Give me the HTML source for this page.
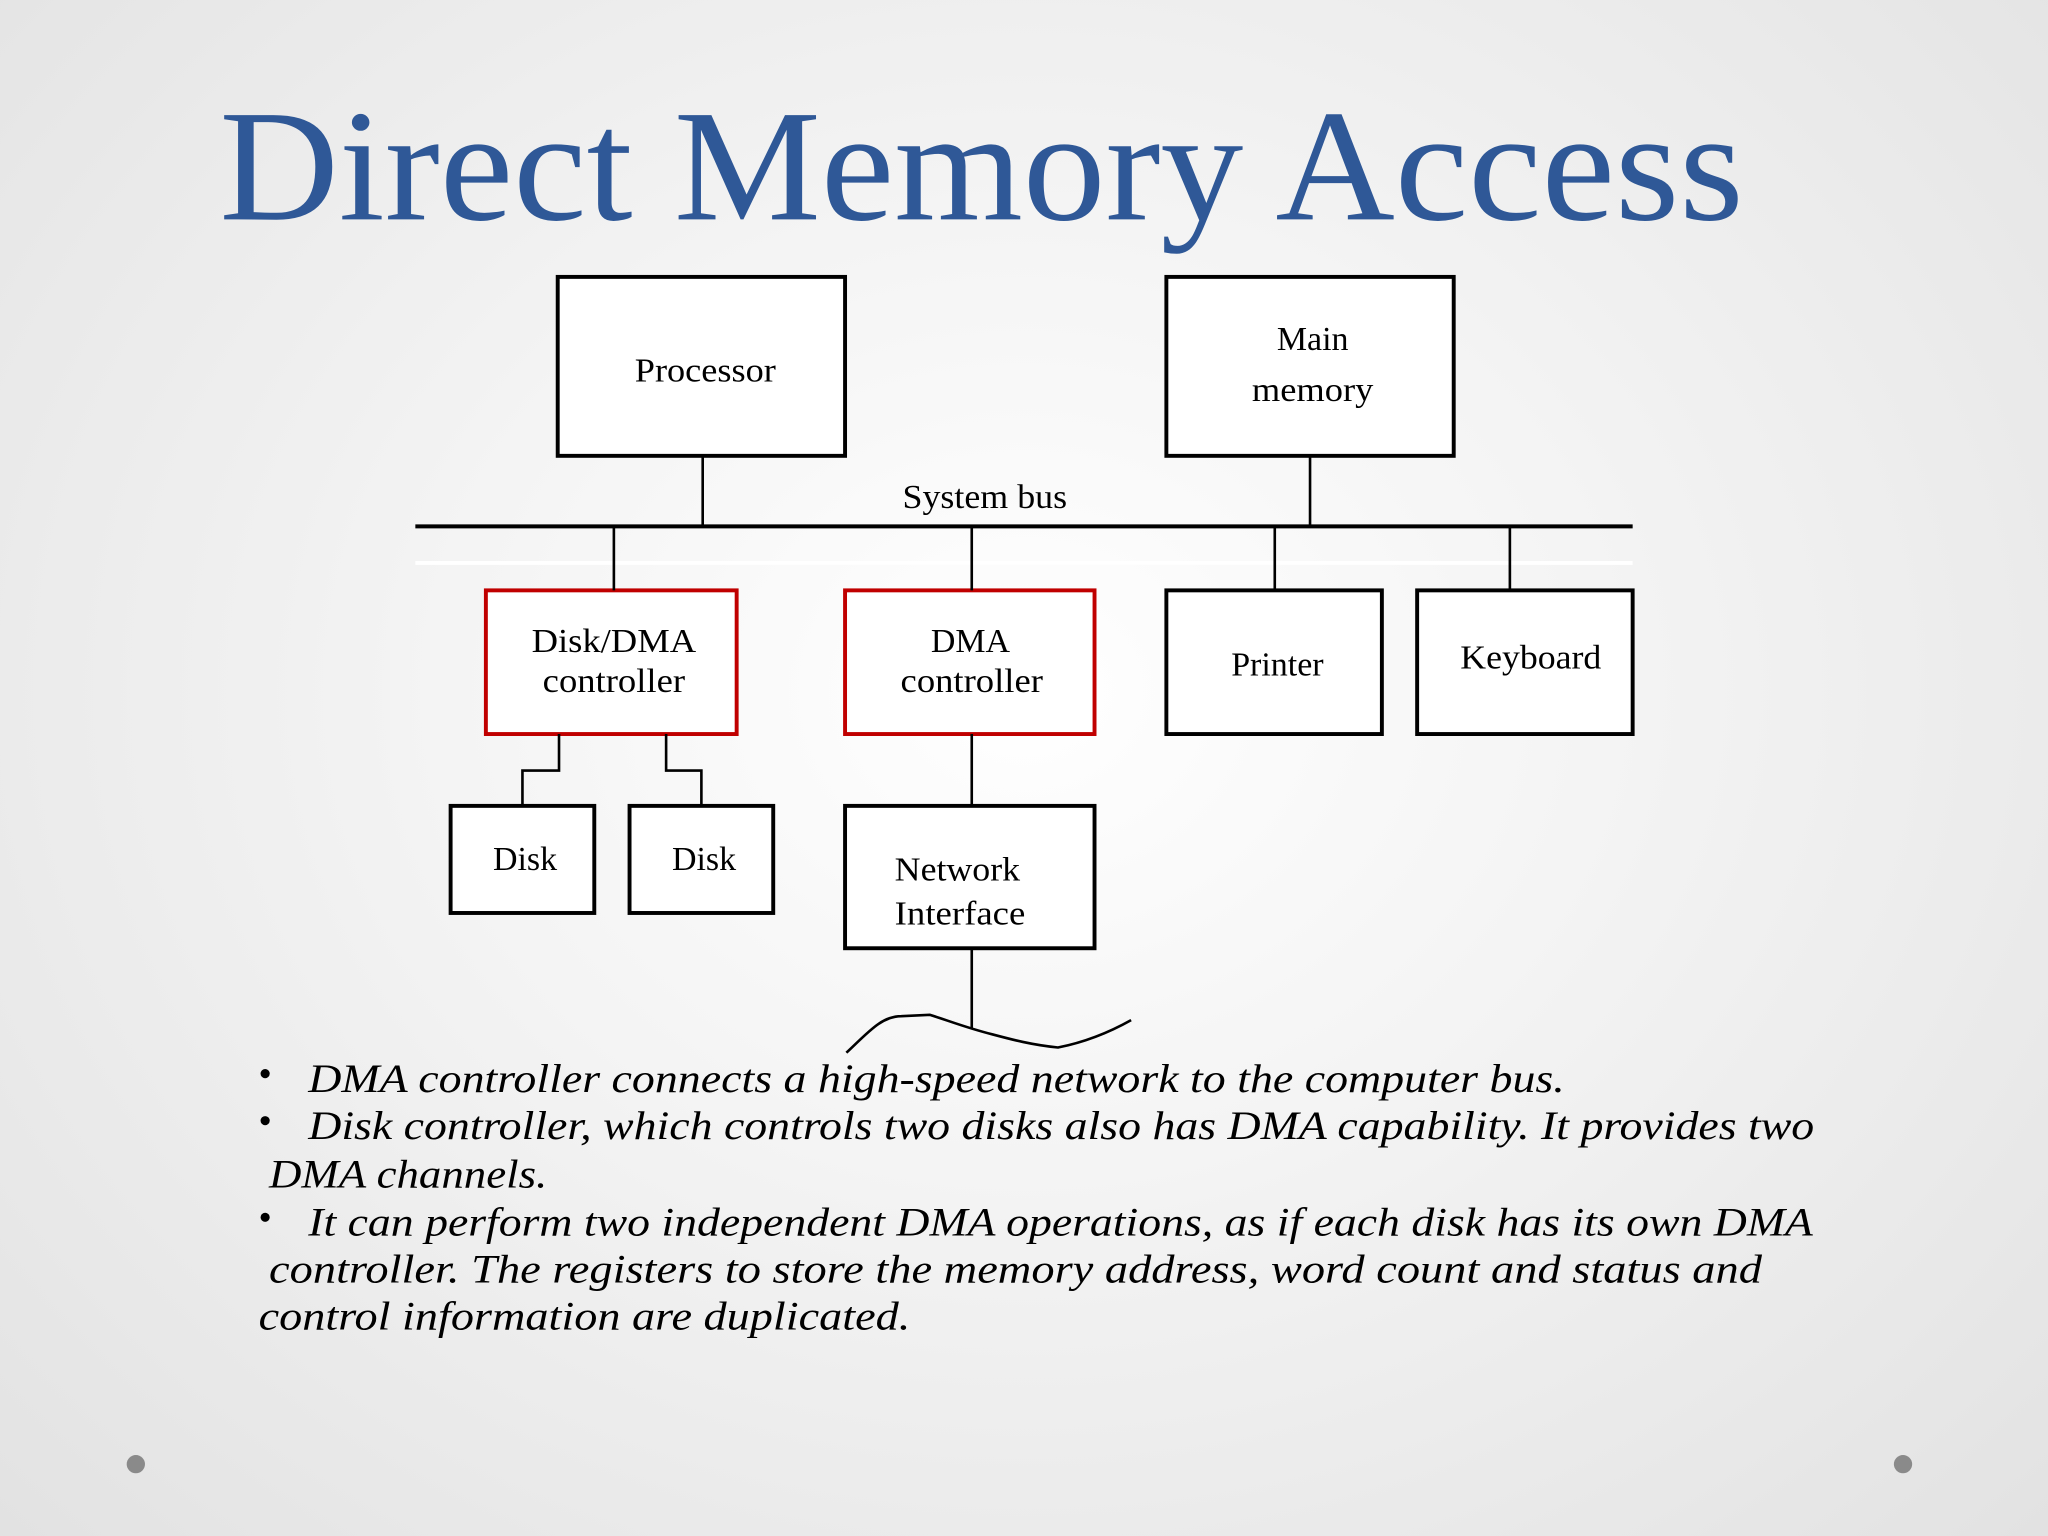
<!DOCTYPE html>
<html><head><meta charset="utf-8"><style>
html,body{margin:0;padding:0;width:2048px;height:1536px;overflow:hidden}
body{background:radial-gradient(ellipse at 50% 45%,#ffffff 0%,#f4f4f4 40%,#e2e2e2 100%)}
svg{display:block}
text{font-family:"Liberation Serif",serif}
</style></head><body>
<svg width="2048" height="1536" viewBox="0 0 1568 1176" xmlns="http://www.w3.org/2000/svg">
<text x="168" y="168" font-size="122" fill="#2f5897" textLength="1167" lengthAdjust="spacingAndGlyphs">Direct Memory Access</text>
<g fill="#fff" stroke="#000" stroke-width="3">
<rect x="427" y="212" width="220" height="137"/>
<rect x="893" y="212" width="220" height="137"/>
<rect x="893" y="452" width="165" height="110"/>
<rect x="1085" y="452" width="165" height="110"/>
<rect x="345" y="617" width="110" height="82"/>
<rect x="482" y="617" width="110" height="82"/>
<rect x="647" y="617" width="191" height="109"/>
</g>
<g fill="#fff" stroke="#c00000" stroke-width="3">
<rect x="372" y="452" width="192" height="110"/>
<rect x="647" y="452" width="191" height="110"/>
</g>
<line x1="318" y1="403" x2="1250" y2="403" stroke="#000" stroke-width="3"/>
<line x1="318" y1="431" x2="1250" y2="431" stroke="#fff" stroke-width="3"/>
<g stroke="#000" stroke-width="2" fill="none">
<line x1="538" y1="349" x2="538" y2="403"/>
<line x1="1003" y1="349" x2="1003" y2="403"/>
<line x1="470" y1="403" x2="470" y2="452"/>
<line x1="744" y1="403" x2="744" y2="452"/>
<line x1="976" y1="403" x2="976" y2="452"/>
<line x1="1156" y1="403" x2="1156" y2="452"/>
<polyline points="428,562 428,590 400,590 400,617"/>
<polyline points="510,562 510,590 537,590 537,617"/>
<line x1="744" y1="562" x2="744" y2="617"/>
<line x1="744" y1="726" x2="744" y2="788"/>
<path d="M648,806 C665,790 675,778 690,778 L712,777 C725,781 740,787 760,792 C775,796 790,800 810,802 C830,798 850,790 866,781"/>
</g>
<g font-size="26" text-anchor="middle" fill="#000">
<text x="540" y="292" textLength="108" lengthAdjust="spacingAndGlyphs">Processor</text>
<text x="1005" y="268">Main</text>
<text x="1005" y="307" textLength="93" lengthAdjust="spacingAndGlyphs">memory</text>
<text x="754" y="389" textLength="126" lengthAdjust="spacingAndGlyphs">System bus</text>
<text x="470" y="499" textLength="126" lengthAdjust="spacingAndGlyphs">Disk/DMA</text>
<text x="470" y="530" textLength="109" lengthAdjust="spacingAndGlyphs">controller</text>
<text x="743" y="499">DMA</text>
<text x="744" y="530" textLength="109" lengthAdjust="spacingAndGlyphs">controller</text>
<text x="978" y="517">Printer</text>
<text x="1172" y="512" textLength="108" lengthAdjust="spacingAndGlyphs">Keyboard</text>
<text x="402" y="666">Disk</text>
<text x="539" y="666">Disk</text>
<text x="733" y="674" textLength="96" lengthAdjust="spacingAndGlyphs">Network</text>
<text x="735" y="708" textLength="100" lengthAdjust="spacingAndGlyphs">Interface</text>
</g>
<g fill="#000">
<circle cx="203" cy="822" r="3.5"/>
<circle cx="203" cy="858" r="3.5"/>
<circle cx="203" cy="932" r="3.5"/>
</g>
<g font-size="31" font-style="italic" fill="#000">
<text x="236" y="836" textLength="962" lengthAdjust="spacingAndGlyphs">DMA controller connects a high-speed network to the computer bus.</text>
<text x="236" y="872" textLength="1153" lengthAdjust="spacingAndGlyphs">Disk controller, which controls two disks also has DMA capability. It provides two</text>
<text x="206" y="909" textLength="213" lengthAdjust="spacingAndGlyphs">DMA channels.</text>
<text x="236" y="946" textLength="1152" lengthAdjust="spacingAndGlyphs">It can perform two independent DMA operations, as if each disk has its own DMA</text>
<text x="206" y="982" textLength="1143" lengthAdjust="spacingAndGlyphs">controller. The registers to store the memory address, word count and status and</text>
<text x="198" y="1018" textLength="499" lengthAdjust="spacingAndGlyphs">control information are duplicated.</text>
</g>
<circle cx="104" cy="1121" r="7" fill="#8a8a8a"/>
<circle cx="1457" cy="1121" r="7" fill="#8a8a8a"/>
</svg>
</body></html>
